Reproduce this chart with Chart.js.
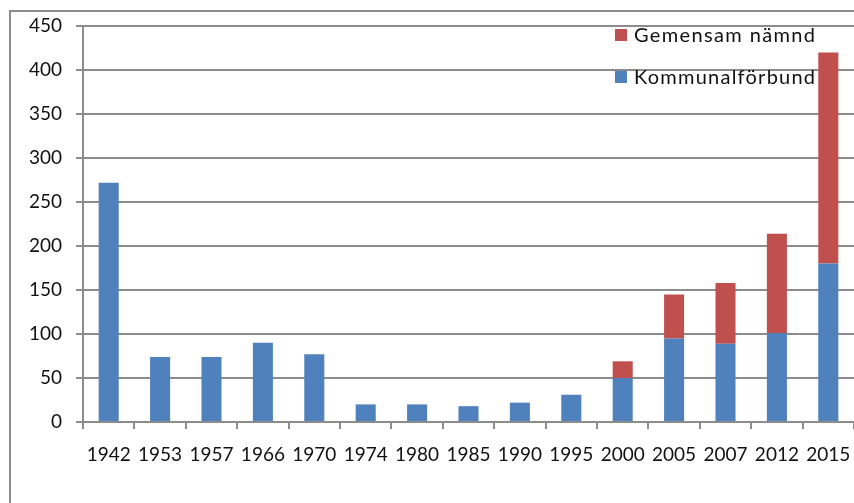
<!DOCTYPE html>
<html>
<head>
<meta charset="utf-8">
<script src="https://cdn.jsdelivr.net/npm/chart.js@4"></script>
<style>
    html, body { margin: 0; padding: 0; background: #fff; overflow: hidden; }
    #wrap { position: relative; width: 854px; height: 503px; }
    #frame { position: absolute; left: 9px; top: 10px; width: 900px; height: 600px; border: 2px solid #8c8c8c; box-sizing: border-box; }
    canvas { position: absolute; left: 0; top: 0; }
</style>
</head>
<body>
<div id="wrap">
    <div id="frame"></div>
    <canvas id="myChart" width="854" height="503"></canvas>
</div>
<script>
    const years = ['1942', '1953', '1957', '1966', '1970', '1974', '1980', '1985', '1990', '1995', '2000', '2005', '2007', '2012', '2015']
    const kommunalforbund = [272, 74, 74, 90, 77, 20, 20, 18, 22, 31, 50, 95, 89, 101, 180]
    const gemensamNamnd = [0, 0, 0, 0, 0, 0, 0, 0, 0, 0, 19, 50, 69, 113, 240]
    const yTicks = [0, 50, 100, 150, 200, 250, 300, 350, 400, 450]

    const gridColor = '#8c8c8c'
    const fontFamily = 'Lato, "Open Sans", sans-serif'

    // legend drawn inside the plot area, top right
    const insideLegend = {
        id: 'insideLegend',
        afterDraw(chart) {
            const ctx = chart.ctx
            const area = chart.chartArea
            const items = chart.data.datasets.slice().reverse()
            ctx.save()
            ctx.font = '20px ' + fontFamily
            ctx.textBaseline = 'middle'
            items.forEach((ds, i) => {
                const x = area.right - 239
                const y = 35 + i * 42
                ctx.fillStyle = ds.backgroundColor
                ctx.fillRect(x, y - 6, 12, 12)
                ctx.fillStyle = '#111'
                ctx.letterSpacing = '0px'
                const w = ctx.measureText(ds.label).width
                const n = ds.label.length
                ctx.letterSpacing = ((181 - w) / (n - 1)).toFixed(2) + 'px'
                ctx.fillText(ds.label, x + 19, y + 1)
            })
            ctx.restore()
        }
    }

    const ctx = document.getElementById('myChart').getContext('2d')
    const chart = new Chart(ctx, {
        type: 'bar',
        data: {
            labels: years,
            datasets: [{
                label: 'Kommunalförbund',
                data: kommunalforbund,
                backgroundColor: '#4F81BD',
                borderWidth: 0
            }, {
                label: 'Gemensam nämnd',
                data: gemensamNamnd,
                backgroundColor: '#C0504D',
                borderWidth: 0
            }]
        },
        options: {
            responsive: false,
            animation: false,
            layout: {
                padding: { top: 26, right: 0, left: 0, bottom: 0 }
            },
            datasets: {
                bar: {
                    categoryPercentage: 1,
                    barPercentage: 0.39
                }
            },
            plugins: {
                legend: { display: false },
                tooltip: { enabled: false }
            },
            scales: {
                x: {
                    stacked: true,
                    grid: {
                        display: true,
                        offset: true,
                        drawOnChartArea: false,
                        drawTicks: true,
                        tickLength: 7,
                        color: gridColor,
                        lineWidth: 2
                    },
                    border: { color: gridColor, width: 2 },
                    ticks: {
                        color: '#111',
                        padding: 14,
                        maxRotation: 0,
                        autoSkip: false,
                        font: { family: fontFamily, size: 19 }
                    },
                    afterFit(scale) {
                        scale.height = 81
                        scale.paddingLeft = 0
                        scale.paddingRight = 0
                    }
                },
                y: {
                    stacked: true,
                    min: 0,
                    max: 450,
                    afterBuildTicks(scale) {
                        scale.ticks = yTicks.map(v => ({ value: v }))
                    },
                    grid: {
                        color: gridColor,
                        lineWidth: 2,
                        tickLength: 7
                    },
                    border: { color: gridColor, width: 2 },
                    ticks: {
                        color: '#111',
                        padding: 14,
                        font: { family: fontFamily, size: 19 }
                    },
                    afterFit(scale) { scale.width = 83 }
                }
            }
        },
        plugins: [insideLegend]
    })
</script>
</body>
</html>
